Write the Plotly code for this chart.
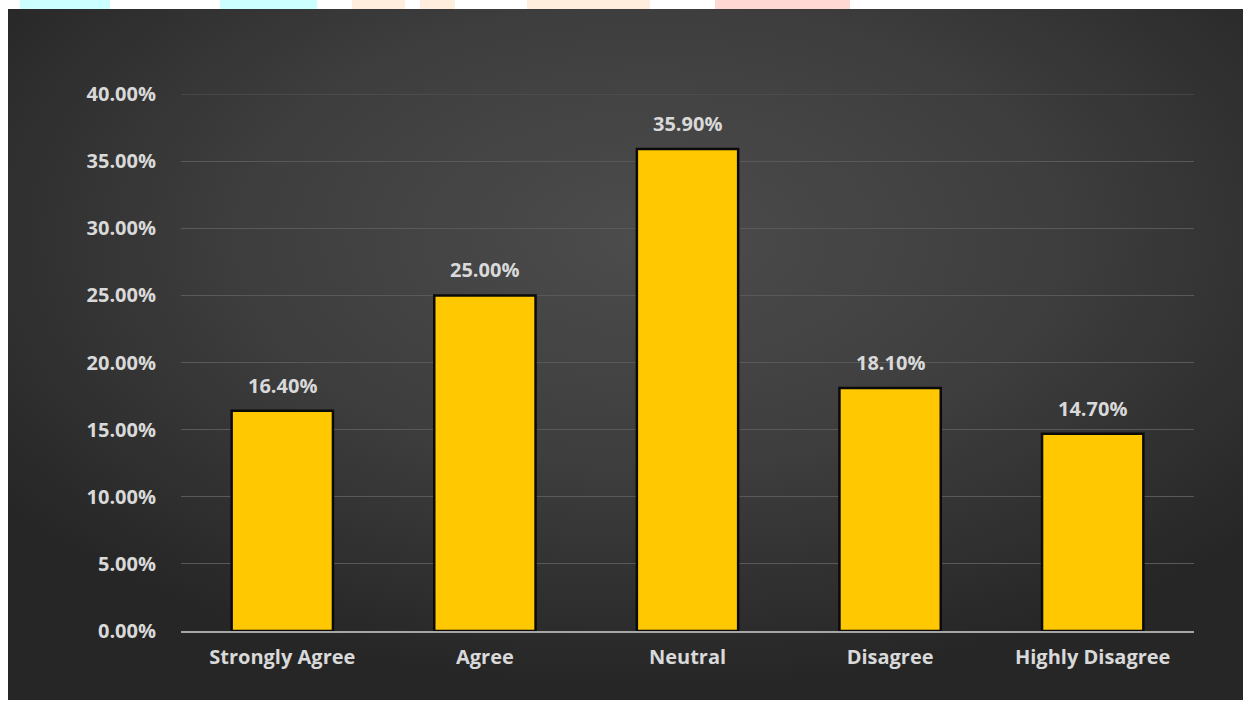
import base64
import plotly.graph_objects as go

# Survey response shares
categories = ["Strongly Agree", "Agree", "Neutral", "Disagree", "Highly Disagree"]
shares = [0.164, 0.250, 0.359, 0.181, 0.147]
y_ticks = [0.0, 0.05, 0.10, 0.15, 0.20, 0.25, 0.30, 0.35, 0.40]

W, H = 1251, 708
ML, MR, MT, MB = 181, 57, 94, 77
PW, PH = W - ML - MR, H - MT - MB

FONT = "Open Sans"
TEXT = "#d9d9d9"
FS = 20

# Radial-gradient panel behind the chart
svg = """<svg xmlns='http://www.w3.org/2000/svg' width='1235' height='691' viewBox='0 0 1235 691' preserveAspectRatio='none'>
<defs><radialGradient id='g' cx='0.52' cy='0.33' r='0.65' gradientUnits='objectBoundingBox'>
<stop offset='0' stop-color='#4c4c4c'/><stop offset='0.5' stop-color='#3e3e3e'/><stop offset='1' stop-color='#262626'/>
</radialGradient></defs><rect width='1235' height='691' fill='url(#g)'/></svg>"""
bg_src = "data:image/svg+xml;base64," + base64.b64encode(svg.encode()).decode()


def px_to_paper_x(px):
    return (px - ML) / PW


def px_to_paper_y(py):
    return (H - MB - py) / PH


fig = go.Figure()
fig.add_trace(go.Bar(
    x=categories,
    y=shares,
    marker=dict(color="#ffc800", line=dict(color="#0a0a0a", width=2.5)),
    width=0.5,
))

# value labels above the bars
for c, v in zip(categories, shares):
    fig.add_annotation(
        x=c, y=v, xref="x", yref="y", text=f"{v:.2%}",
        showarrow=False, yanchor="bottom", yshift=10,
        font=dict(family=FONT, size=FS, color=TEXT, weight="bold"),
    )

# top gridline at the range limit
fig.add_shape(type="line", xref="paper", yref="y", x0=0, x1=1,
              y0=y_ticks[-1], y1=y_ticks[-1],
              line=dict(color="#595959", width=1), layer="below")

fig.add_layout_image(dict(
    source=bg_src, xref="paper", yref="paper",
    x=px_to_paper_x(8), y=px_to_paper_y(9),
    sizex=(1243 - 8) / PW, sizey=(700 - 9) / PH,
    xanchor="left", yanchor="top", sizing="stretch", layer="below",
))

# faint header marks along the top edge
for x0, x1, col in [(20, 110, "#ccffff"), (220, 317, "#ccffff"),
                    (352, 405, "#ffeedd"), (420, 455, "#ffeedd"),
                    (527, 650, "#ffeedd"), (715, 850, "#ffd8d4")]:
    fig.add_shape(type="rect", xref="paper", yref="paper",
                  x0=px_to_paper_x(x0), x1=px_to_paper_x(x1),
                  y0=px_to_paper_y(9), y1=px_to_paper_y(0),
                  fillcolor=col, line=dict(width=0), layer="below")

fig.update_layout(
    width=W, height=H,
    margin=dict(l=ML, r=MR, t=MT, b=MB),
    paper_bgcolor="white",
    plot_bgcolor="rgba(0,0,0,0)",
    showlegend=False,
    bargap=0.5,
    font=dict(family=FONT, color=TEXT),
    xaxis=dict(
        showgrid=False,
        showline=True, linecolor="#a6a6a6", linewidth=2,
        ticks="", tickfont=dict(family=FONT, size=FS, color=TEXT, weight="bold"),
        ticklabelstandoff=7,
    ),
    yaxis=dict(
        range=[0, 0.4],
        tickvals=y_ticks,
        ticktext=[f"{t:.2%}" for t in y_ticks],
        showgrid=True, gridcolor="#595959", gridwidth=1,
        zeroline=False, showline=False,
        ticks="", tickfont=dict(family=FONT, size=FS, color=TEXT, weight="bold"),
        ticklabelstandoff=24,
    ),
)

fig.write_html("out.html")
